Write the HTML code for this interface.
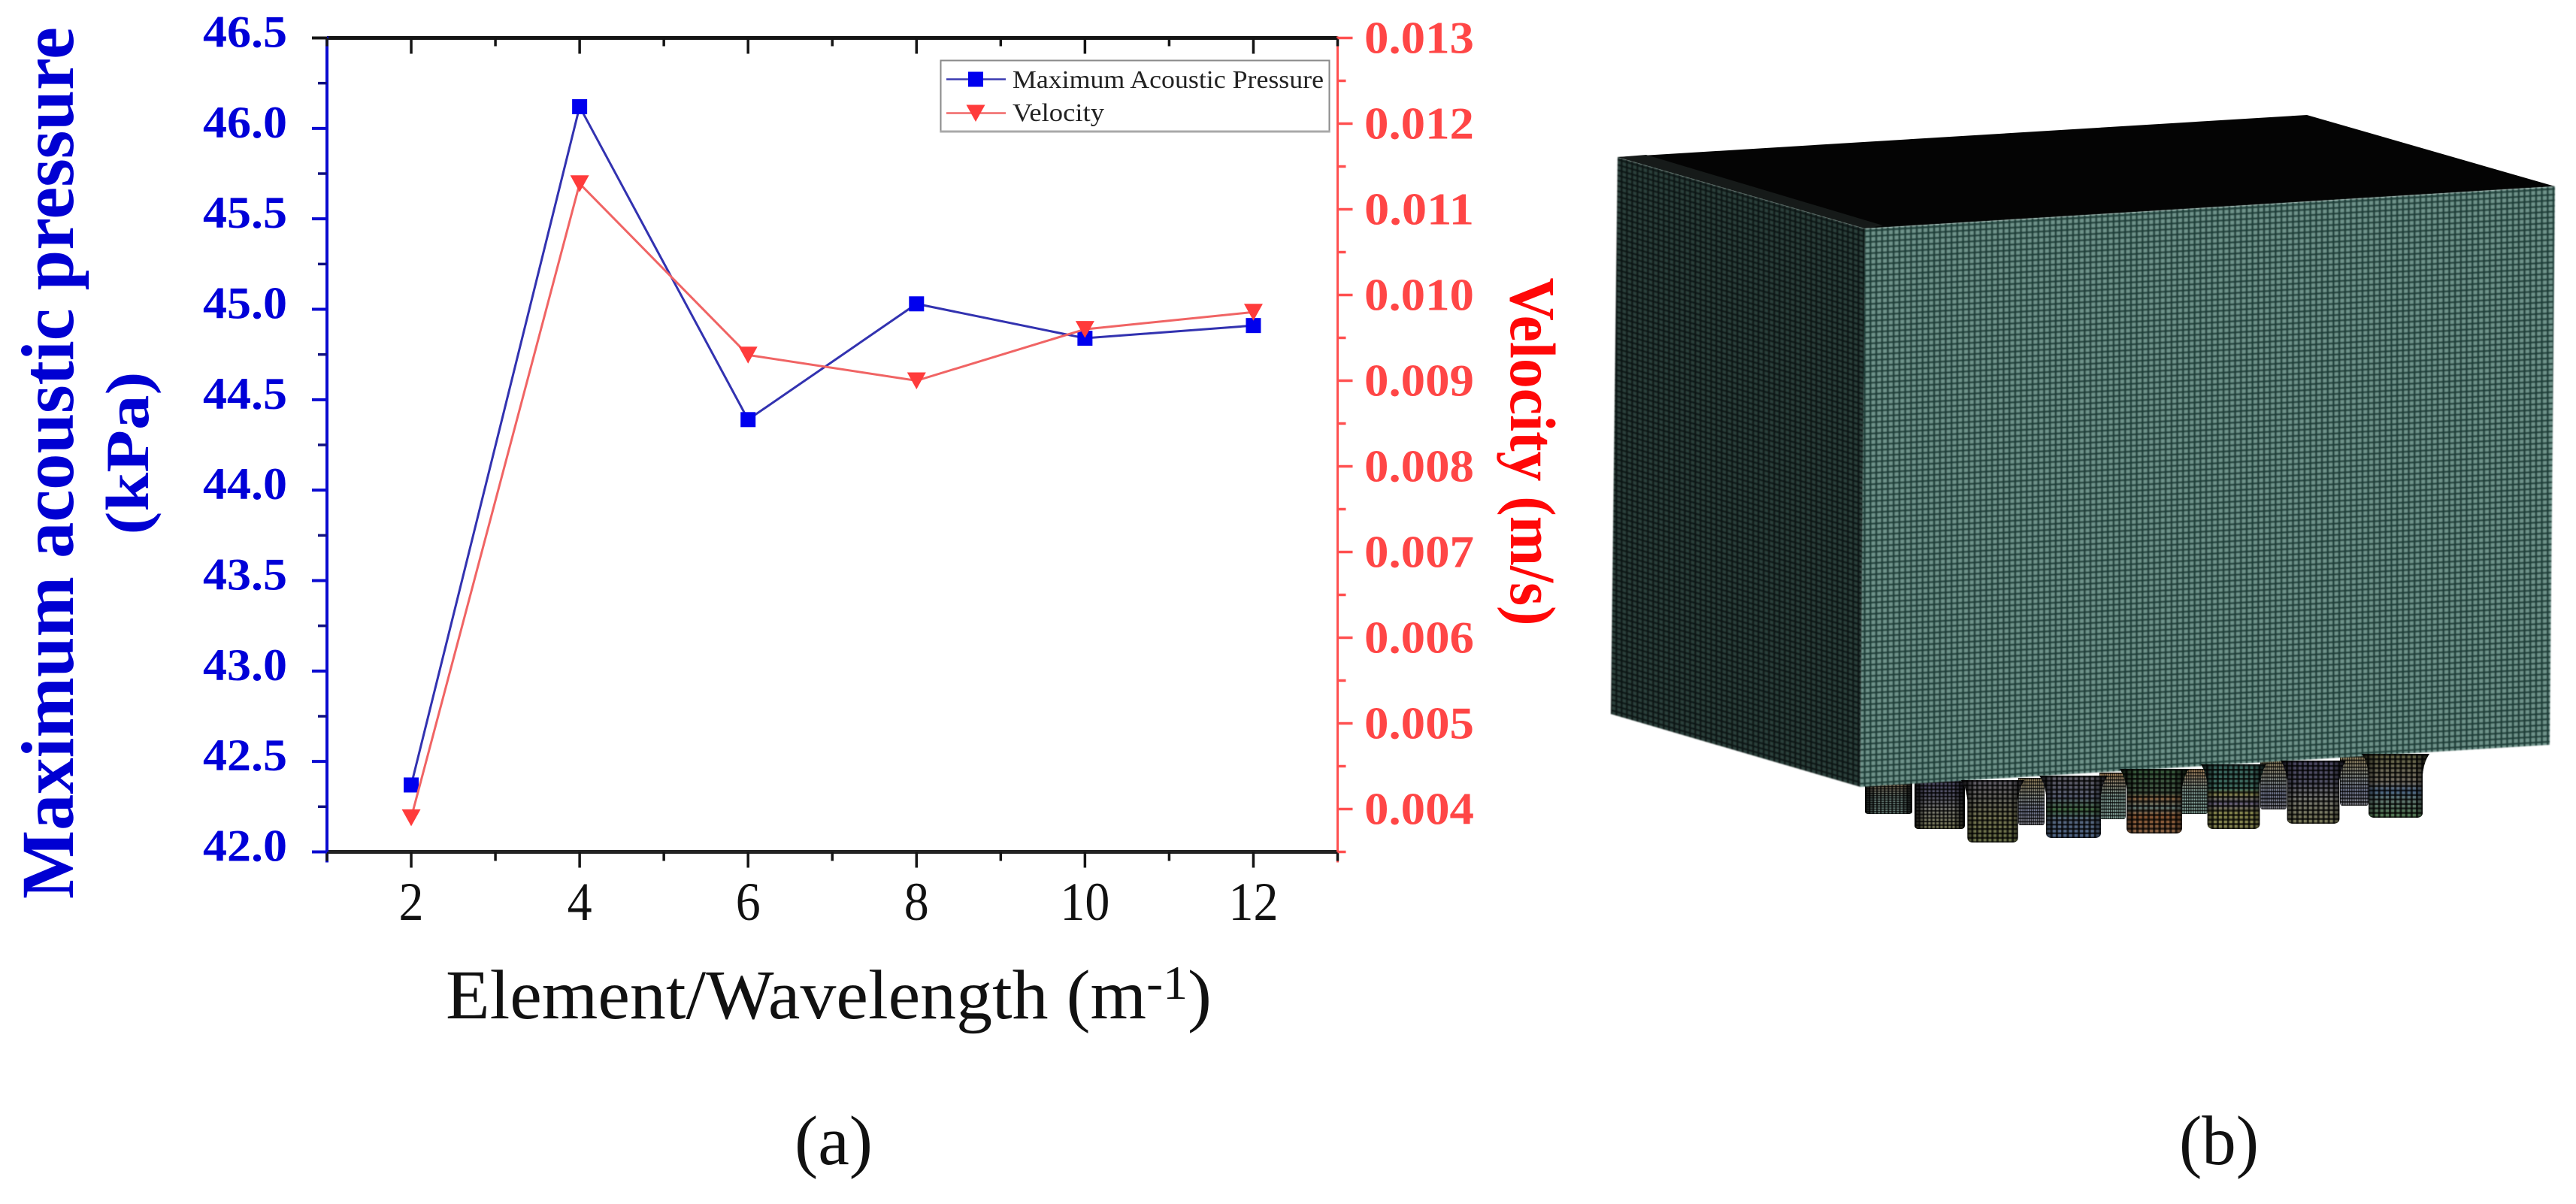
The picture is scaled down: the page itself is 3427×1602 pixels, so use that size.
<!DOCTYPE html>
<html lang="en">
<head>
<meta charset="utf-8">
<title>Maximum acoustic pressure and velocity vs element/wavelength, with mesh model</title>
<style>
html,body{margin:0;padding:0;background:#fff;}
svg{display:block;position:absolute;left:0;top:0;}
text{font-family:"Liberation Serif",serif;}
</style>
</head>
<body>
<svg id="fig" xmlns="http://www.w3.org/2000/svg" width="3427" height="1602" viewBox="0 0 3427 1602">
<defs>
  <filter id="soft" x="-2%" y="-2%" width="104%" height="104%"><feGaussianBlur stdDeviation="0.9"/></filter>
  <pattern id="meshRight" width="7.7" height="7.5" patternUnits="userSpaceOnUse" patternTransform="matrix(1 -0.061 0 1 0 0)">
    <rect width="7.7" height="7.5" fill="#6e938a"/>
    <rect x="0" y="0" width="2.6" height="7.5" fill="#1b3d37"/>
    <rect x="0" y="0" width="7.7" height="2.4" fill="#1b3d37"/>
  </pattern>
  <pattern id="meshLeft" width="7" height="7" patternUnits="userSpaceOnUse" patternTransform="matrix(1 0.29 0 1 0 0)">
    <rect width="7" height="7" fill="#2c3f3a"/>
    <rect x="0" y="0" width="2.6" height="7" fill="#0c1513"/>
    <rect x="0" y="0" width="7" height="2.6" fill="#0c1513"/>
  </pattern>
  <pattern id="meshBell" width="8" height="7" patternUnits="userSpaceOnUse">
    <rect x="0" y="0" width="3.4" height="7" fill="#000" fill-opacity="0.7"/>
    <rect x="0" y="0" width="8" height="3" fill="#000" fill-opacity="0.7"/>
  </pattern>
  <linearGradient id="edgeShade" x1="0" y1="0" x2="1" y2="0">
    <stop offset="0" stop-color="#000" stop-opacity="0.95"/>
    <stop offset="0.22" stop-color="#000" stop-opacity="0.3"/>
    <stop offset="0.78" stop-color="#000" stop-opacity="0.3"/>
    <stop offset="1" stop-color="#000" stop-opacity="0.95"/>
  </linearGradient>
  <linearGradient id="bands1" x1="0" y1="0" x2="0" y2="1">
    <stop offset="0" stop-color="#8a8494"/><stop offset="0.3" stop-color="#8a8a80"/><stop offset="0.6" stop-color="#a0a070"/><stop offset="1" stop-color="#8f9a60"/>
  </linearGradient>
  <linearGradient id="bands2" x1="0" y1="0" x2="0" y2="1">
    <stop offset="0" stop-color="#85808c"/><stop offset="0.35" stop-color="#7a84a0"/><stop offset="0.55" stop-color="#5f9a60"/><stop offset="0.7" stop-color="#7a90b0"/><stop offset="1" stop-color="#7090c0"/>
  </linearGradient>
  <linearGradient id="bands3" x1="0" y1="0" x2="0" y2="1">
    <stop offset="0" stop-color="#4a7a50"/><stop offset="0.38" stop-color="#607a60"/><stop offset="0.45" stop-color="#c08a5a"/><stop offset="0.6" stop-color="#8aa8a0"/><stop offset="0.72" stop-color="#c07a48"/><stop offset="1" stop-color="#c08a60"/>
  </linearGradient>
  <linearGradient id="bands4" x1="0" y1="0" x2="0" y2="1">
    <stop offset="0" stop-color="#4e8a80"/><stop offset="0.38" stop-color="#5a9a88"/><stop offset="0.45" stop-color="#b8b868"/><stop offset="0.6" stop-color="#8a80a8"/><stop offset="0.75" stop-color="#b8b868"/><stop offset="1" stop-color="#b8b870"/>
  </linearGradient>
  <linearGradient id="bands5" x1="0" y1="0" x2="0" y2="1">
    <stop offset="0" stop-color="#666088"/><stop offset="0.35" stop-color="#70708a"/><stop offset="0.6" stop-color="#a8a8a0"/><stop offset="1" stop-color="#a8a878"/>
  </linearGradient>
  <linearGradient id="bands6" x1="0" y1="0" x2="0" y2="1">
    <stop offset="0" stop-color="#86865a"/><stop offset="0.45" stop-color="#a8a090"/><stop offset="0.58" stop-color="#6a90c0"/><stop offset="0.72" stop-color="#8aa8a0"/><stop offset="1" stop-color="#70a870"/>
  </linearGradient>
  <linearGradient id="bandsBack" x1="0" y1="0" x2="0" y2="1">
    <stop offset="0" stop-color="#a88258"/><stop offset="0.25" stop-color="#908a78"/><stop offset="0.5" stop-color="#7f9a92"/><stop offset="1" stop-color="#88a89e"/>
  </linearGradient>
  <linearGradient id="bandsBack2" x1="0" y1="0" x2="0" y2="1">
    <stop offset="0" stop-color="#98845c"/><stop offset="0.4" stop-color="#8a908a"/><stop offset="0.7" stop-color="#747a94"/><stop offset="1" stop-color="#82828a"/>
  </linearGradient>
  <path id="bellShape" d="M0,0 L100,0 Q92,12 90,32 L90,92 Q90,100 80,100 L20,100 Q10,100 10,92 L10,32 Q8,12 0,0 Z"/>
  <path id="bellBack" d="M0,0 L100,0 L100,92 Q100,100 92,100 L8,100 Q0,100 0,92 Z"/>
</defs>

<g id="panel-a">
  <rect id="legendPlaceholder" x="435" y="50" width="1345" height="1084" fill="#fff"/>
  <g id="ticks"></g>
  <g id="series"></g>
  <g id="labels"></g>

  <text x="97" y="616" transform="rotate(-90 97 616)" text-anchor="middle" font-weight="bold" font-size="100" fill="#0000d2" textLength="1160" lengthAdjust="spacingAndGlyphs">Maximum acoustic pressure</text>
  <text x="197" y="603" transform="rotate(-90 197 603)" text-anchor="middle" font-weight="bold" font-size="82" fill="#0000d2" textLength="217" lengthAdjust="spacingAndGlyphs">(kPa)</text>
  <text x="2010" y="601" transform="rotate(90 2010 601)" text-anchor="middle" font-weight="bold" font-size="86" fill="#ff0808" textLength="463" lengthAdjust="spacingAndGlyphs">Velocity (m/s)</text>
  <text x="593" y="1355" font-size="93" fill="#111" textLength="1019" lengthAdjust="spacingAndGlyphs">Element/Wavelength (m<tspan font-size="64" dy="-26">-1</tspan><tspan dy="26">)</tspan></text>

  <g>
    <rect x="1251.5" y="80.5" width="517" height="95" fill="#fff" stroke="#8a8a8a" stroke-width="2"/>
    <line x1="1251" y1="175" x2="1769" y2="175" stroke="#a8a8a8" stroke-width="3"/>
    <line x1="1259" y1="105.5" x2="1338" y2="105.5" stroke="#3a3ab0" stroke-width="2.5"/>
    <rect x="1288" y="95.5" width="20" height="20" fill="#0000ee"/>
    <text x="1347" y="117" font-size="34" fill="#222" textLength="414" lengthAdjust="spacingAndGlyphs">Maximum Acoustic Pressure</text>
    <line x1="1259" y1="150.5" x2="1338" y2="150.5" stroke="#f06868" stroke-width="2.5"/>
    <polygon points="1285.5,139.5 1310.5,139.5 1298,162" fill="#ff3b3b"/>
    <text x="1347" y="161" font-size="34" fill="#222" textLength="122" lengthAdjust="spacingAndGlyphs">Velocity</text>
  </g>

  <text x="1057" y="1549" font-size="93" fill="#111" textLength="104" lengthAdjust="spacingAndGlyphs">(a)</text>
</g>

<g id="panel-b">
  <g>
    <g transform="translate(2481 1040) scale(0.63 0.43)"><use href="#bellBack" fill="url(#bandsBack)"/><use href="#bellBack" fill="url(#meshBell)"/><use href="#bellBack" fill="url(#edgeShade)"/></g>
    <g transform="translate(2547 1035) scale(0.67 0.68)"><use href="#bellBack" fill="url(#bands5)"/><use href="#bellBack" fill="url(#meshBell)"/><use href="#bellBack" fill="url(#edgeShade)"/></g>
    <g transform="translate(2685 1035) scale(0.35 0.63)"><use href="#bellBack" fill="url(#bandsBack2)"/><use href="#bellBack" fill="url(#meshBell)"/></g>
    <g transform="translate(2793 1028) scale(0.35 0.62)"><use href="#bellBack" fill="url(#bandsBack)"/><use href="#bellBack" fill="url(#meshBell)"/></g>
    <g transform="translate(2899 1023) scale(0.38 0.6)"><use href="#bellBack" fill="url(#bandsBack)"/><use href="#bellBack" fill="url(#meshBell)"/></g>
    <g transform="translate(3007 1010) scale(0.35 0.67)"><use href="#bellBack" fill="url(#bandsBack2)"/><use href="#bellBack" fill="url(#meshBell)"/></g>
    <g transform="translate(3113 1006) scale(0.38 0.66)"><use href="#bellBack" fill="url(#bandsBack2)"/><use href="#bellBack" fill="url(#meshBell)"/></g>
  </g>
  <polygon points="2152,209 3069,153 3399,248 2481,304" fill="#040404"/>
  <polygon points="2152,209 2190,206 2505,300 2481,304" fill="#161a19"/>
  <g filter="url(#soft)">
    <polygon points="2152,209 2481,304 2475,1047 2143,950" fill="url(#meshLeft)"/>
    <polygon points="2481,304 3399,248 3392,991 2475,1047" fill="url(#meshRight)"/>
  </g>
  <g>
    <g transform="translate(2609 1038) scale(0.84 0.83)"><use href="#bellShape" fill="url(#bands1)"/><use href="#bellShape" fill="url(#meshBell)"/><use href="#bellShape" fill="url(#edgeShade)"/></g>
    <g transform="translate(2713 1032) scale(0.91 0.83)"><use href="#bellShape" fill="url(#bands2)"/><use href="#bellShape" fill="url(#meshBell)"/><use href="#bellShape" fill="url(#edgeShade)"/></g>
    <g transform="translate(2820 1023) scale(0.92 0.86)"><use href="#bellShape" fill="url(#bands3)"/><use href="#bellShape" fill="url(#meshBell)"/><use href="#bellShape" fill="url(#edgeShade)"/></g>
    <g transform="translate(2928 1017) scale(0.87 0.86)"><use href="#bellShape" fill="url(#bands4)"/><use href="#bellShape" fill="url(#meshBell)"/><use href="#bellShape" fill="url(#edgeShade)"/></g>
    <g transform="translate(3034 1012) scale(0.87 0.84)"><use href="#bellShape" fill="url(#bands5)"/><use href="#bellShape" fill="url(#meshBell)"/><use href="#bellShape" fill="url(#edgeShade)"/></g>
    <g transform="translate(3142 1003) scale(0.9 0.85)"><use href="#bellShape" fill="url(#bands6)"/><use href="#bellShape" fill="url(#meshBell)"/><use href="#bellShape" fill="url(#edgeShade)"/></g>
  </g>
  <text x="2899" y="1549" font-size="93" fill="#111" textLength="106" lengthAdjust="spacingAndGlyphs">(b)</text>
</g>
</svg>

<script>
// Chart data
const categories = [2, 4, 6, 8, 10, 12];
const pressureValues = [42.37, 46.12, 44.39, 45.03, 44.84, 44.91];
const velocityValues = [0.0039, 0.0113, 0.0093, 0.0090, 0.0096, 0.0098];
const xTickValues = [2, 4, 6, 8, 10, 12];
const xMinorTickValues = [1, 3, 5, 7, 9, 11, 13];
const pressureTickLabels = ['42.0', '42.5', '43.0', '43.5', '44.0', '44.5', '45.0', '45.5', '46.0', '46.5'];
const velocityTickLabels = ['0.004', '0.005', '0.006', '0.007', '0.008', '0.009', '0.010', '0.011', '0.012', '0.013'];

const plotLeft = 435, plotRight = 1779.5, plotTop = 50.5, plotBottom = 1133.5;
const xMin = 1, xMax = 13, pMin = 42, pMax = 46.5, vMin = 0.0035, vMax = 0.013;

function xScale(v) { return plotLeft + (v - xMin) / (xMax - xMin) * (plotRight - plotLeft); }
function yPressure(v) { return plotBottom - (v - pMin) / (pMax - pMin) * (plotBottom - plotTop); }
function yVelocity(v) { return plotBottom - (v - vMin) / (vMax - vMin) * (plotBottom - plotTop); }

const NS = 'http://www.w3.org/2000/svg';
function make(tag, parent, attrs, txt) {
  const el = document.createElementNS(NS, tag);
  for (const k in attrs) el.setAttribute(k, attrs[k]);
  if (txt !== undefined) el.textContent = txt;
  parent.appendChild(el);
  return el;
}

const tickLayer = document.getElementById('ticks');
const labelLayer = document.getElementById('labels');
const seriesLayer = document.getElementById('series');

const blue = '#0a0ad0', red = '#ff5050', black = '#151515';
let el;

// Frame
el = make('line', tickLayer, {x1: plotLeft, y1: plotTop, x2: plotRight, y2: plotTop, stroke: black, 'stroke-width': 5});


el = make('line', tickLayer, {x1: plotLeft, y1: plotBottom, x2: plotRight, y2: plotBottom, stroke: '#222', 'stroke-width': 5});


el = make('line', tickLayer, {x1: plotLeft, y1: plotTop - 2, x2: plotLeft, y2: plotBottom + 14, stroke: blue, 'stroke-width': 4});


el = make('line', tickLayer, {x1: plotRight, y1: plotTop - 2, x2: plotRight, y2: plotBottom + 14, stroke: red, 'stroke-width': 3});



// X ticks, top (inward) and bottom (outward)
xTickValues.forEach(function (v) {
  const x = xScale(v);
  let t = make('line', tickLayer, {x1: x, y1: plotTop, x2: x, y2: plotTop + 21, stroke: black, 'stroke-width': 3.5});
  
  
  t = make('line', tickLayer, {x1: x, y1: plotBottom, x2: x, y2: plotBottom + 21, stroke: black, 'stroke-width': 3.5});
  
  
  const lab = make('text', labelLayer, {x: x, y: 1224, 'text-anchor': 'middle', 'font-size': 72, fill: '#111', textLength: String(v).length * 33, lengthAdjust: 'spacingAndGlyphs'}, String(v));
  
  
});
xMinorTickValues.forEach(function (v) {
  const x = xScale(v);
  let t = make('line', tickLayer, {x1: x, y1: plotTop, x2: x, y2: plotTop + 11, stroke: black, 'stroke-width': 3.5});
  
  
  t = make('line', tickLayer, {x1: x, y1: plotBottom, x2: x, y2: plotBottom + 12, stroke: black, 'stroke-width': 3.5});
  
  
});

// Left axis ticks and labels
pressureTickLabels.forEach(function (s) {
  const y = yPressure(parseFloat(s));
  const isTop = parseFloat(s) === pMax;
  const t = make('line', tickLayer, {x1: plotLeft - 20, y1: y, x2: plotLeft, y2: y, stroke: isTop ? black : blue, 'stroke-width': 4});
  
  
  const lab = make('text', labelLayer, {x: 326, y: y + 12, 'text-anchor': 'middle', 'font-size': 60, 'font-weight': 'bold', fill: '#0000d8', textLength: 112, lengthAdjust: 'spacingAndGlyphs'}, s);
  
  
  if (parseFloat(s) < pMax) {
    const ym = yPressure(parseFloat(s) + 0.25);
    const m = make('line', tickLayer, {x1: plotLeft - 12, y1: ym, x2: plotLeft, y2: ym, stroke: '#101080', 'stroke-width': 3.5});
    
    
  }
});

// Right axis ticks and labels
velocityTickLabels.forEach(function (s) {
  const val = parseFloat(s);
  const y = yVelocity(val);
  const t = make('line', tickLayer, {x1: plotRight, y1: y, x2: plotRight + 20, y2: y, stroke: red, 'stroke-width': 3.5});
  
  
  const lab = make('text', labelLayer, {x: 1815, y: y + 20, 'font-size': 60, 'font-weight': 'bold', fill: '#ff4646', textLength: 146, lengthAdjust: 'spacingAndGlyphs'}, s);
  
  
  const ym = yVelocity(val - 0.0005);
  const m = make('line', tickLayer, {x1: plotRight, y1: ym, x2: plotRight + 11, y2: ym, stroke: red, 'stroke-width': 3.5});
  
  
});

// Series
const pressurePts = categories.map(function (c, i) { return [xScale(c), yPressure(pressureValues[i])]; });
const velocityPts = categories.map(function (c, i) { return [xScale(c), yVelocity(velocityValues[i])]; });

const pLine = make('polyline', seriesLayer, {points: pressurePts.map(function (p) { return p.join(','); }).join(' '), fill: 'none', stroke: '#3232b0', 'stroke-width': 3});


pressurePts.forEach(function (p) {
  const m = make('rect', seriesLayer, {x: p[0] - 10, y: p[1] - 10, width: 20, height: 20, fill: '#0000ee'});
  
  
});

const vLine = make('polyline', seriesLayer, {points: velocityPts.map(function (p) { return p.join(','); }).join(' '), fill: 'none', stroke: '#f06464', 'stroke-width': 3});


velocityPts.forEach(function (p) {
  const pts = [[p[0] - 12.5, p[1] - 11], [p[0] + 12.5, p[1] - 11], [p[0], p[1] + 11.5]];
  const m = make('polygon', seriesLayer, {points: pts.map(function (q) { return q.join(','); }).join(' '), fill: '#ff3b3b'});
  
  
});
</script>
</body>
</html>
